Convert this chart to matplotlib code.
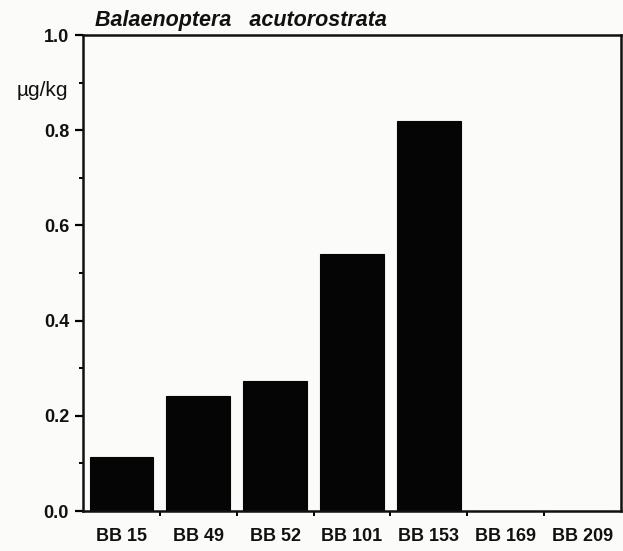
import matplotlib
matplotlib.use("Agg")
import matplotlib.pyplot as plt
from matplotlib.ticker import MultipleLocator, FixedLocator, FuncFormatter

# Concentrations per congener (µg/kg)
congeners = ["BB 15", "BB 49", "BB 52", "BB 101", "BB 153", "BB 169", "BB 209"]
concentration = [0.114, 0.241, 0.273, 0.540, 0.820, 0.0, 0.0]
y_ticks = [0.0, 0.2, 0.4, 0.6, 0.8, 1.0]

plt.rcParams["font.family"] = ["Liberation Sans", "DejaVu Sans"]

W, H = 623, 551
fig = plt.figure(figsize=(W / 100, H / 100), dpi=100)
fig.patch.set_facecolor("#fbfbfa")
ax = fig.add_axes([83 / W, 1 - 511 / H, (621 - 83) / W, (511 - 35) / H])
ax.set_facecolor("#fbfbfa")

x = list(range(len(congeners)))
ax.bar(x, concentration, width=0.83, color="#050505", edgecolor="#050505", linewidth=0.8)

ax.set_xlim(-0.5, len(congeners) - 0.5)
ax.set_ylim(0, 1.0)

# y axis: labelled major ticks every 0.2, short minor ticks in between
ax.yaxis.set_major_locator(FixedLocator(y_ticks))
ax.yaxis.set_major_formatter(FuncFormatter(lambda v, p: f"{v:.1f}"))
ax.yaxis.set_minor_locator(MultipleLocator(0.1))
ax.tick_params(axis="y", which="major", direction="out", length=6, width=1.6,
               pad=4, labelsize=13)
ax.tick_params(axis="y", which="minor", direction="out", length=3, width=1.4)

# x axis: labels at bar centres, small ticks between categories
ax.set_xticks(x)
ax.set_xticklabels(congeners)
ax.set_xticks([i + 0.5 for i in x[:-1]], minor=True)
ax.tick_params(axis="x", which="major", length=0, pad=12.5, labelsize=13)
ax.tick_params(axis="x", which="minor", direction="out", length=3.5, width=1.4)

for lab in ax.get_xticklabels() + ax.get_yticklabels():
    lab.set_fontweight("bold")
    lab.set_color("#111111")

for side in ["left", "right", "top", "bottom"]:
    ax.spines[side].set_linewidth(1.8)
    ax.spines[side].set_color("#111111")

fig.text(68 / W, 1 - 96 / H, "µg/kg", ha="right", va="baseline",
         fontsize=15, color="#111111")
fig.text(95 / W, 1 - 26 / H, "Balaenoptera   acutorostrata", ha="left",
         va="baseline", fontsize=15.5, fontweight="bold", fontstyle="italic",
         color="#111111")

fig.savefig("out.png", dpi=100, facecolor=fig.get_facecolor())
